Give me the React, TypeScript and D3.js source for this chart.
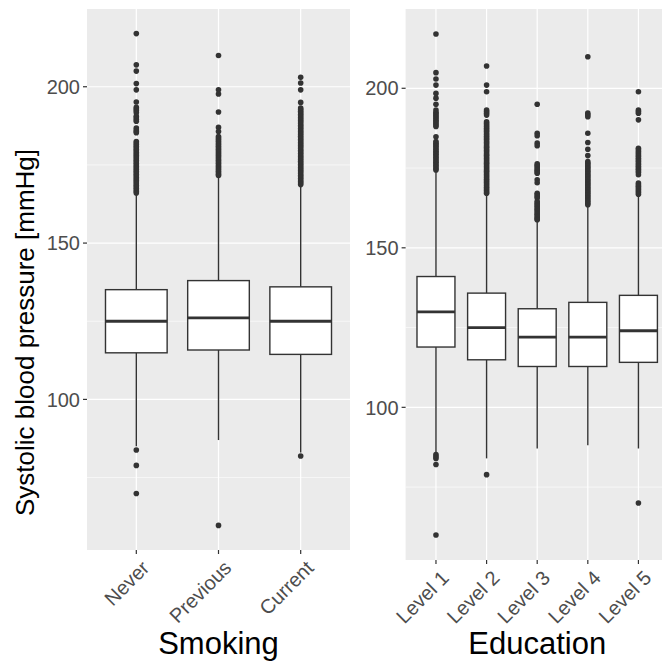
import React, { useRef, useEffect } from 'react';
import * as d3 from 'd3';

// ---- data ----
const smokingGroups = ['Never', 'Previous', 'Current'];
const smokingLow = [85, 87, 83];
const smokingQ1 = [114.9, 115.8, 114.4];
const smokingMedian = [125, 126.1, 125];
const smokingQ3 = [135.1, 138, 136];
const smokingHigh = [165.5, 171, 168.3];

const neverOutliers = [217, 207, 205, 201, 199, 195.1, 193.4, 192.9, 192.4, 191.8, 190.6, 190.1, 189.5, 189.0,
  186.8, 186.2, 185.7, 185.3, 182.5, 182, 181.5, 181, 180.5, 180, 179.5, 179, 178.5, 178, 177.5, 177, 176.5,
  176, 175.5, 175, 174.5, 174, 173.5, 173, 172.5, 172, 171.5, 171, 170.5, 170, 169.5, 169, 168.5, 168, 167.5,
  167, 166.5, 166, 83.8, 78.9, 69.9];
const previousOutliers = [210, 199, 197.7, 191.9, 187, 185.7, 184.1, 183.6, 183.1, 182.6, 182, 181.5, 181,
  180.5, 180, 179.5, 179, 178.5, 178, 177.5, 177, 176.5, 176, 175.5, 175, 174.5, 174, 173.5, 173, 172.5, 172,
  171.6, 59.7];
const currentOutliers = [203, 201.2, 199, 195, 193.2, 192.7, 192.2, 191.7, 191.2, 190.7, 190.2, 189.7, 189.2,
  188.7, 188.2, 187.7, 187.2, 186.7, 186.2, 185.7, 185.2, 184.7, 184.2, 183.7, 183.2, 182.7, 182.2, 181.7,
  181.2, 180.7, 180.2, 179.7, 179.2, 178.7, 178.2, 177.7, 177.2, 176.7, 176.2, 175.7, 175.2, 174.7, 174.2,
  173.7, 173.2, 172.7, 172.2, 171.7, 171.2, 170.7, 170.2, 169.7, 169.2, 168.7, 81.9];
const smokingOutliers = [neverOutliers, previousOutliers, currentOutliers];

const educationGroups = ['Level 1', 'Level 2', 'Level 3', 'Level 4', 'Level 5'];
const educationLow = [85.7, 84, 87.1, 88.1, 87.1];
const educationQ1 = [118.9, 114.9, 112.8, 112.8, 114.1];
const educationMedian = [129.9, 125, 122, 122, 124];
const educationQ3 = [141, 135.8, 130.9, 132.9, 135.1];
const educationHigh = [174.2, 166.8, 158.5, 163.2, 166.4];

const level1Outliers = [217, 204.9, 202.9, 201, 198.4, 196.9, 195, 193.2, 192.5, 192, 191.5, 191, 190.5, 190,
  189.5, 189, 188.5, 188, 184.8, 183.3, 182.8, 182.3, 181.8, 181.3, 180.8, 180.3, 179.8, 179.3, 178.8, 178.3,
  177.8, 177.3, 176.8, 176.3, 175.8, 175.3, 174.8, 174.4, 85.2, 84.6, 84, 82.1, 60];
const level2Outliers = [207, 201, 198.9, 193.2, 192.7, 192.2, 191.6, 189.5, 189, 188.5, 188, 187.5, 187, 186.5,
  186, 185.5, 185, 184.5, 184, 183.5, 183, 182.5, 182, 181.5, 181, 180.5, 180, 179.5, 179, 178.5, 178, 177.5,
  177, 176.5, 176, 175.5, 175, 174.5, 174, 173.5, 173, 172.5, 172, 171.5, 171, 170.5, 170, 169.5, 169, 168.5,
  168, 167.5, 167.1, 78.9];
const level3Outliers = [195, 185.9, 185.1, 182.8, 182, 176.3, 175.8, 175.3, 174.8, 174.3, 173.8, 173.4, 171.3,
  170.4, 167.1, 166.6, 166.1, 165.6, 164.5, 164, 163.5, 163, 162.5, 162, 161.5, 161, 160.5, 160, 159.5, 159,
  158.8];
const level4Outliers = [209.9, 192.2, 191.6, 191.1, 185.9, 183, 180.9, 178.9, 177, 176.5, 176, 175.5, 175,
  174.5, 174, 173.5, 173, 172.5, 172, 171.5, 171, 170.5, 170, 169.5, 169, 168.5, 168, 167.5, 167, 166.5, 166,
  165.5, 165, 164.5, 164, 163.5];
const level5Outliers = [198.9, 193.2, 192.7, 192.2, 190.1, 181.2, 180.7, 180.2, 179.7, 179.2, 178.7, 178.1,
  177.6, 177.1, 176.6, 176.1, 175.6, 175.1, 174.6, 174.1, 173.6, 172.9, 170.3, 169.8, 169.3, 168.8, 168.3,
  167.8, 167.3, 166.8, 70];
const educationOutliers = [level1Outliers, level2Outliers, level3Outliers, level4Outliers, level5Outliers];

const yMajorTicks = [100, 150, 200];
const yMinorTicks = [75, 125, 175];

const W = 662;
const H = 665;
const FONT = "'Liberation Sans', Arial, Helvetica, sans-serif";

const drawPanel = (svg, opts) => {
  const { groups, low, q1, med, q3, high, outliers, left, right, top, bottom, title } = opts;

  const all = [...low, ...high, ...outliers.flat()];
  const [mn, mx] = d3.extent(all);
  const pad = (mx - mn) * 0.05;

  const x = d3.scalePoint()
    .domain(groups)
    .range([left, right])
    .padding(0.6);

  const y = d3.scaleLinear()
    .domain([mn - pad, mx + pad])
    .range([bottom, top]);

  const g = svg.append('g');

  // panel background
  g.append('rect')
    .attr('x', left)
    .attr('y', top)
    .attr('width', right - left)
    .attr('height', bottom - top)
    .attr('fill', '#EBEBEB');

  // grid
  g.selectAll('.minor')
    .data(yMinorTicks)
    .enter().append('line')
    .attr('x1', left).attr('x2', right)
    .attr('y1', d => y(d)).attr('y2', d => y(d))
    .attr('stroke', '#fff').attr('stroke-width', 0.6);

  g.selectAll('.major')
    .data(yMajorTicks)
    .enter().append('line')
    .attr('x1', left).attr('x2', right)
    .attr('y1', d => y(d)).attr('y2', d => y(d))
    .attr('stroke', '#fff').attr('stroke-width', 1.2);

  g.selectAll('.vgrid')
    .data(groups)
    .enter().append('line')
    .attr('x1', d => x(d)).attr('x2', d => x(d))
    .attr('y1', top).attr('y2', bottom)
    .attr('stroke', '#fff').attr('stroke-width', 1.2);

  const bw = x.step() * 0.75;
  const ink = '#333333';

  groups.forEach((grp, i) => {
    const cx = x(grp);
    // whiskers
    g.append('line')
      .attr('x1', cx).attr('x2', cx)
      .attr('y1', y(q3[i])).attr('y2', y(high[i]))
      .attr('stroke', ink).attr('stroke-width', 1.4);
    g.append('line')
      .attr('x1', cx).attr('x2', cx)
      .attr('y1', y(q1[i])).attr('y2', y(low[i]))
      .attr('stroke', ink).attr('stroke-width', 1.4);
    // box
    g.append('rect')
      .attr('x', cx - bw / 2)
      .attr('y', y(q3[i]))
      .attr('width', bw)
      .attr('height', y(q1[i]) - y(q3[i]))
      .attr('fill', '#fff')
      .attr('stroke', ink)
      .attr('stroke-width', 1.4);
    // median
    g.append('line')
      .attr('x1', cx - bw / 2).attr('x2', cx + bw / 2)
      .attr('y1', y(med[i])).attr('y2', y(med[i]))
      .attr('stroke', ink).attr('stroke-width', 2.8);
    // outliers
    g.selectAll(null)
      .data(outliers[i])
      .enter().append('circle')
      .attr('cx', cx)
      .attr('cy', d => y(d))
      .attr('r', 2.8)
      .attr('fill', ink);
  });

  // y axis ticks + labels
  g.selectAll('.ytick')
    .data(yMajorTicks)
    .enter().append('line')
    .attr('x1', left - 4).attr('x2', left)
    .attr('y1', d => y(d)).attr('y2', d => y(d))
    .attr('stroke', ink).attr('stroke-width', 1.2);

  g.selectAll('.ylab')
    .data(yMajorTicks)
    .enter().append('text')
    .attr('x', left - 7)
    .attr('y', d => y(d))
    .attr('dy', '0.36em')
    .attr('text-anchor', 'end')
    .attr('font-family', FONT)
    .attr('font-size', 20)
    .attr('fill', '#4D4D4D')
    .text(d => d);

  // x axis ticks + labels
  g.selectAll('.xtick')
    .data(groups)
    .enter().append('line')
    .attr('x1', d => x(d)).attr('x2', d => x(d))
    .attr('y1', bottom).attr('y2', bottom + 4)
    .attr('stroke', ink).attr('stroke-width', 1.2);

  g.selectAll('.xlab')
    .data(groups)
    .enter().append('text')
    .attr('transform', d => `translate(${x(d) + 4},${bottom + 9}) rotate(-45)`)
    .attr('dy', '0.72em')
    .attr('text-anchor', 'end')
    .attr('font-family', FONT)
    .attr('font-size', 20)
    .attr('fill', '#4D4D4D')
    .text(d => d);

  g.append('text')
    .attr('x', (left + right) / 2)
    .attr('y', 654)
    .attr('text-anchor', 'middle')
    .attr('font-family', FONT)
    .attr('font-size', 31)
    .attr('fill', '#000')
    .text(title);
};

const App = () => {
  const svgRef = useRef(null);

  useEffect(() => {
    document.body.style.margin = '0';
    const svg = d3.select(svgRef.current);
    svg.selectAll('*').remove();

    svg.attr('width', W).attr('height', H);

    svg.append('rect').attr('width', W).attr('height', H).attr('fill', '#fff');

    drawPanel(svg, {
      groups: smokingGroups,
      low: smokingLow, q1: smokingQ1, med: smokingMedian, q3: smokingQ3, high: smokingHigh,
      outliers: smokingOutliers,
      left: 87, right: 350, top: 9, bottom: 550,
      title: 'Smoking',
    });

    drawPanel(svg, {
      groups: educationGroups,
      low: educationLow, q1: educationQ1, med: educationMedian, q3: educationQ3, high: educationHigh,
      outliers: educationOutliers,
      left: 405.6, right: 668.8, top: 9, bottom: 560,
      title: 'Education',
    });

    svg.append('text')
      .attr('transform', `translate(34,${H / 2}) rotate(-90)`)
      .attr('text-anchor', 'middle')
      .attr('font-family', FONT)
      .attr('font-size', 26)
      .attr('fill', '#000')
      .text('Systolic blood pressure [mmHg]');
  }, []);

  return (
    <svg ref={svgRef} style={{ position: 'absolute', left: 0, top: 0, display: 'block' }}></svg>
  );
};

export default App;
